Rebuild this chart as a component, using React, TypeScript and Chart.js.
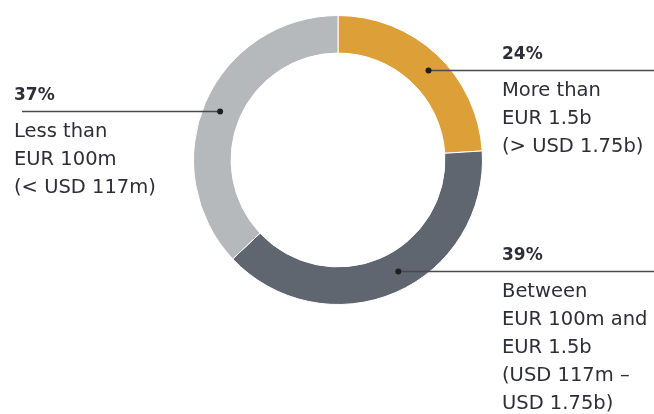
import React, { useEffect, useRef } from "react";
import { Chart, registerables } from "chart.js";

Chart.register(...registerables);

const categories = ["More than EUR 1.5b", "Between EUR 100m and EUR 1.5b", "Less than EUR 100m"];
const shares = [24, 39, 37];
const colors = ["#DDA038", "#5F6670", "#B6B9BB"];
const percentLabels = ["24%", "39%", "37%"];
const descLines = [
  ["More than", "EUR 1.5b", "(> USD 1.75b)"],
  ["Between", "EUR 100m and", "EUR 1.5b", "(USD 117m \u2013", "USD 1.75b)"],
  ["Less than", "EUR 100m", "(< USD 117m)"],
];
// label styling: side and where along the arc the leader dot sits
const labelSide = ["right", "right", "left"];
const dotFraction = [0.525, 0.465, 0.49];

const leaderPlugin = {
  id: "leaders",
  afterDatasetsDraw(chart: any) {
    const ctx = chart.ctx as CanvasRenderingContext2D;
    const meta = chart.getDatasetMeta(0);
    const W = chart.width;
    meta.data.forEach((arc: any, i: number) => {
      const { x, y, startAngle, endAngle, innerRadius, outerRadius } = arc.getProps(
        ["x", "y", "startAngle", "endAngle", "innerRadius", "outerRadius"],
        true
      );
      const a = startAngle + (endAngle - startAngle) * dotFraction[i];
      const r = (innerRadius + outerRadius) / 2 + 1.5;
      const dotX = x + Math.cos(a) * r;
      const dotY = Math.round(y + Math.sin(a) * r) - 0.5;
      const side = labelSide[i];
      const textX = side === "right" ? 502 : 14;
      const lineStart = side === "right" ? dotX : 22;
      const lineEnd = side === "right" ? W : dotX;
      ctx.save();
      ctx.strokeStyle = "#4a4a4a";
      ctx.lineWidth = 1.3;
      ctx.beginPath();
      ctx.moveTo(lineStart, dotY);
      ctx.lineTo(lineEnd, dotY);
      ctx.stroke();
      ctx.fillStyle = "#1e1e1e";
      ctx.beginPath();
      ctx.arc(dotX, dotY, 3, 0, Math.PI * 2);
      ctx.fill();
      ctx.fillStyle = "#2e2e38";
      ctx.textAlign = "left";
      ctx.textBaseline = "alphabetic";
      ctx.font = "bold 17px 'DejaVu Sans'";
      ctx.fillText(percentLabels[i], textX, dotY - 11.5);
      ctx.font = "19.5px 'DejaVu Sans'";
      descLines[i].forEach((ln, j) => {
        ctx.fillText(ln, textX, dotY + 25.5 + j * 28);
      });
      ctx.restore();
    });
  },
};

export default function App() {
  const ref = useRef<HTMLCanvasElement>(null);
  useEffect(() => {
    if (!ref.current) return;
    const chart = new Chart(ref.current, {
      type: "doughnut",
      data: {
        labels: categories,
        datasets: [
          {
            data: shares,
            backgroundColor: colors,
            borderColor: "#ffffff",
            borderWidth: 1,
            hoverOffset: 0,
          },
        ],
      },
      options: {
        animation: false,
        responsive: false,
        cutout: "74%",
        layout: { padding: { top: 15, bottom: 109, left: 193, right: 171 } },
        events: [],
        plugins: {
          legend: { display: false },
          tooltip: { enabled: false },
        },
      },
      plugins: [leaderPlugin],
    });
    return () => chart.destroy();
  }, []);
  return (
    <div style={{ position: "fixed", left: 0, top: 0, width: 654, height: 414, background: "#fff" }}>
      <canvas ref={ref} width={654} height={414} style={{ width: 654, height: 414 }} />
    </div>
  );
}
